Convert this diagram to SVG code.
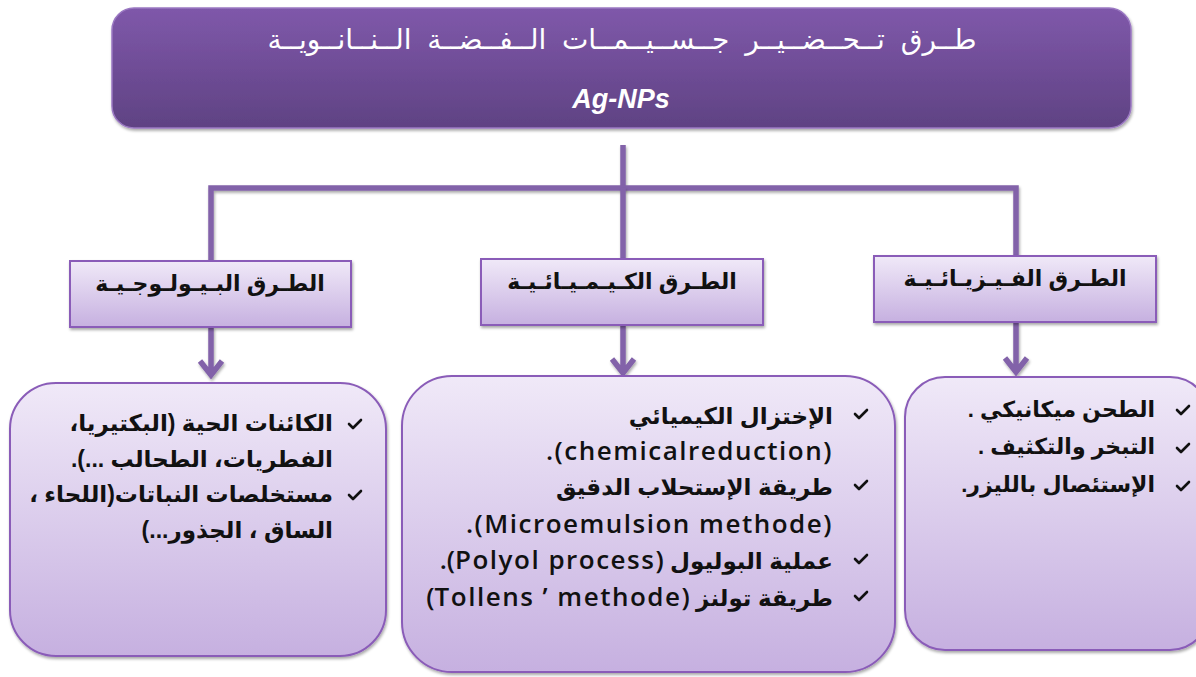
<svg xmlns="http://www.w3.org/2000/svg" width="1196" height="677" viewBox="0 0 1196 677">
<defs>
<linearGradient id="gTitle" x1="0" y1="0" x2="0" y2="1">
<stop offset="0" stop-color="#7f58aa"/>
<stop offset="1" stop-color="#5f4283"/>
</linearGradient>
<linearGradient id="gBox" x1="0" y1="0" x2="0" y2="1">
<stop offset="0" stop-color="#f0e9f8"/>
<stop offset="1" stop-color="#c6b0e0"/>
</linearGradient>
<filter id="sh" filterUnits="userSpaceOnUse" x="0" y="0" width="1196" height="677">
<feGaussianBlur in="SourceAlpha" stdDeviation="1.5"/>
<feOffset dx="1" dy="2" result="b"/>
<feComponentTransfer><feFuncA type="linear" slope="0.35"/></feComponentTransfer>
<feMerge><feMergeNode/><feMergeNode in="SourceGraphic"/></feMerge>
</filter>
<path id="chk" d="M0,4 L4,8 L12,0" fill="none" stroke="#111" stroke-width="2.6" stroke-linecap="round" stroke-linejoin="round"/>
</defs>
<style>
.box{fill:url(#gBox);stroke:#8a5cb8;stroke-width:2;filter:url(#sh)}
.ln{fill:none;stroke:#8262a9;stroke-width:5.5;filter:url(#sh)}
.ar{font-family:"Liberation Sans","DejaVu Sans",sans-serif;fill:#111}
.hd{font-size:22px;text-anchor:middle;font-weight:bold}
.it{font-weight:bold}
.en{font-family:"Open Sans","Liberation Sans",sans-serif;fill:#111;letter-spacing:1.5px;font-weight:600}
</style>
<rect width="1196" height="677" fill="#ffffff"/>

<g id="connectors">
<path class="ln" d="M623,145 V188"/>
<path class="ln" d="M211,260 V188 H1016 V257"/>
<path class="ln" d="M623,188 V258"/>
<path class="ln" d="M211,327 V375 M200,361 L211,375 L222,361"/>
<path class="ln" d="M623,325 V373 M612,359 L623,373 L634,359"/>
<path class="ln" d="M1016,322 V372 M1005,358 L1016,372 L1027,358"/>
</g>

<g id="title">
<rect x="112" y="8" width="1019" height="120" rx="22" fill="url(#gTitle)" stroke="#9a78c2" stroke-width="1.5" filter="url(#sh)"/>
<text x="622" y="49" text-anchor="middle" font-family="'Liberation Sans','DejaVu Sans',sans-serif" font-size="28" word-spacing="8" fill="#ffffff">طــرق تــحــضــيــر جــســيــمــات الــفــضــة الــنــانــويــة</text>
<text x="621" y="108" text-anchor="middle" font-family="'Liberation Sans',sans-serif" font-size="27" font-weight="bold" font-style="italic" fill="#ffffff">Ag-NPs</text>
</g>

<g id="head-bio">
<rect class="box" x="70" y="261" width="281" height="66"/>
<text class="ar hd" x="210" y="291">الطـرق البـيـولـوجـيـة</text>
</g>
<g id="head-chem">
<rect class="box" x="481" y="259" width="282" height="66"/>
<text class="ar hd" x="622" y="289">الطـرق الكـيـمـيـائـيـة</text>
</g>
<g id="head-phys">
<rect class="box" x="874" y="256" width="282" height="66"/>
<text class="ar hd" x="1015" y="286">الطـرق الفـيـزيـائـيـة</text>
</g>

<g id="box-bio">
<rect class="box" x="10" y="383" width="376" height="273" rx="46"/>
<use href="#chk" x="349" y="420"/>
<use href="#chk" x="349" y="491"/>
<g class="ar it" font-size="23" direction="rtl">
<text x="333" y="431">الكائنات الحية (البكتيريا،</text>
<text x="333" y="467">الفطريات، الطحالب ...).</text>
<text x="333" y="502">مستخلصات النباتات(اللحاء ،</text>
<text x="333" y="538">الساق ، الجذور...)</text>
</g>
</g>

<g id="box-chem">
<rect class="box" x="402" y="376" width="493" height="296" rx="50"/>
<use href="#chk" x="855" y="410"/>
<use href="#chk" x="855" y="481"/>
<use href="#chk" x="855" y="555"/>
<use href="#chk" x="855" y="592"/>
<g font-size="23" direction="rtl">
<text class="ar it" x="833" y="424">الإختزال الكيميائي</text>
<text class="en" x="833" y="460" font-size="26">(chemicalreduction).</text>
<text class="ar it" x="833" y="495">طريقة الإستحلاب الدقيق</text>
<text class="en" x="833" y="533" font-size="26">(Microemulsion methode).</text>
<text class="ar it" x="833" y="569">عملية البوليول <tspan class="en" font-size="26">(Polyol process).</tspan></text>
<text class="ar it" x="833" y="606">طريقة تولنز <tspan class="en" font-size="26">(Tollens ’ methode)</tspan></text>
</g>
</g>

<g id="box-phys">
<rect class="box" x="905" y="377" width="305" height="273" rx="40"/>
<use href="#chk" x="1177" y="406"/>
<use href="#chk" x="1177" y="444"/>
<use href="#chk" x="1177" y="482"/>
<g class="ar it" font-size="22" direction="rtl">
<text x="1155" y="417">الطحن ميكانيكي .</text>
<text x="1155" y="454">التبخر والتكثيف .</text>
<text x="1155" y="492">الإستئصال بالليزر.</text>
</g>
</g>
</svg>
